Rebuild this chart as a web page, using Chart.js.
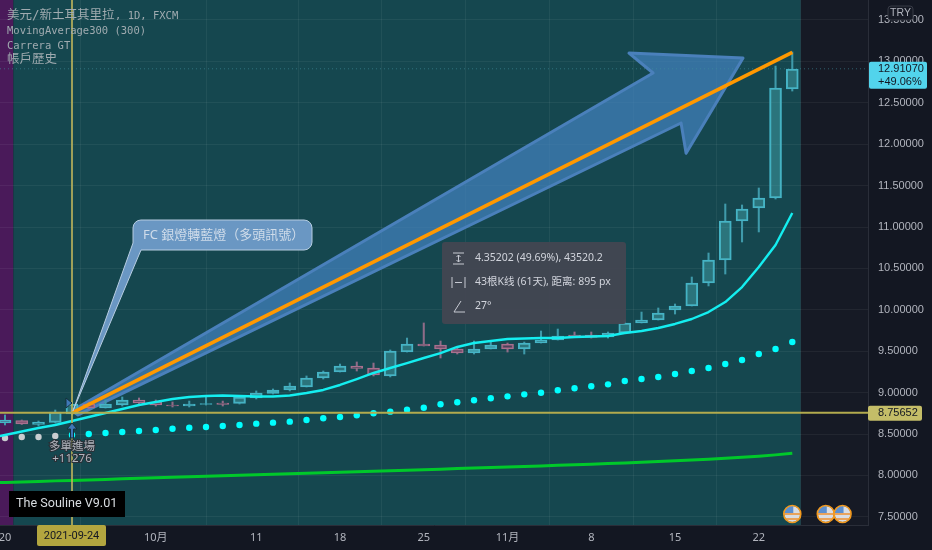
<!DOCTYPE html>
<html>
<head>
<meta charset="utf-8">
<title>USD/TRY</title>
<script src="https://cdn.jsdelivr.net/npm/chart.js@4/dist/chart.umd.min.js"></script>
<style>
  html, body { margin: 0; padding: 0; background: #131722; }
  canvas { display: block; }
</style>
</head>
<body>
<canvas id="chart" width="932" height="550"></canvas>
<script>
// daily bars, 2021-09-17 (just off the left edge) to 2021-11-24
const opens = [8.63, 8.633, 8.663, 8.615, 8.639, 8.742, 8.862, 8.814, 8.85, 8.911, 8.887, 8.85, 8.838, 8.856, 8.875, 8.868, 8.935, 8.989, 9.032, 9.068, 9.176, 9.249, 9.321, 9.297, 9.201, 9.49, 9.587, 9.575, 9.527, 9.478, 9.527, 9.587, 9.527, 9.599, 9.635, 9.696, 9.696, 9.672, 9.72, 9.841, 9.877, 9.998, 10.046, 10.324, 10.601, 11.073, 11.229, 11.35, 12.667];
const closes = [8.65, 8.669, 8.621, 8.645, 8.766, 8.862, 8.814, 8.862, 8.911, 8.875, 8.85, 8.838, 8.862, 8.868, 8.856, 8.947, 8.995, 9.032, 9.08, 9.176, 9.249, 9.321, 9.291, 9.213, 9.503, 9.587, 9.563, 9.527, 9.478, 9.527, 9.575, 9.527, 9.599, 9.635, 9.684, 9.672, 9.666, 9.72, 9.841, 9.877, 9.961, 10.046, 10.324, 10.601, 11.073, 11.217, 11.35, 12.679, 12.908];
const highs = [8.66, 8.73, 8.669, 8.657, 8.79, 8.887, 8.887, 8.911, 8.947, 8.935, 8.911, 8.887, 8.898, 8.947, 8.898, 8.959, 9.02, 9.044, 9.116, 9.201, 9.261, 9.345, 9.37, 9.357, 9.515, 9.659, 9.841, 9.623, 9.539, 9.623, 9.623, 9.599, 9.611, 9.744, 9.768, 9.732, 9.732, 9.732, 9.877, 9.973, 10.022, 10.07, 10.396, 10.686, 11.278, 11.266, 11.471, 12.944, 13.114];
const lows = [8.61, 8.609, 8.615, 8.597, 8.633, 8.73, 8.802, 8.814, 8.838, 8.862, 8.838, 8.826, 8.826, 8.85, 8.838, 8.862, 8.923, 8.983, 9.02, 9.068, 9.164, 9.249, 9.261, 9.201, 9.189, 9.49, 9.563, 9.418, 9.466, 9.466, 9.527, 9.49, 9.466, 9.599, 9.635, 9.672, 9.659, 9.659, 9.72, 9.841, 9.877, 9.949, 10.046, 10.288, 10.432, 10.819, 10.94, 11.338, 12.642];

// Carrera GT centre line
const carreraLine = [8.45, 8.488, 8.53, 8.573, 8.609, 8.657, 8.705, 8.754, 8.802, 8.85, 8.887, 8.923, 8.947, 8.959, 8.965, 8.959, 8.953, 8.953, 8.965, 8.995, 9.032, 9.092, 9.164, 9.237, 9.297, 9.357, 9.418, 9.478, 9.551, 9.599, 9.623, 9.647, 9.653, 9.659, 9.659, 9.672, 9.678, 9.684, 9.72, 9.744, 9.78, 9.829, 9.889, 9.973, 10.094, 10.275, 10.517, 10.783, 11.169];
// Carrera GT dots
const carreraDots = [8.44, 8.452, 8.464, 8.464, 8.476, 8.488, 8.5, 8.512, 8.524, 8.536, 8.548, 8.564, 8.576, 8.585, 8.597, 8.609, 8.625, 8.637, 8.649, 8.669, 8.69, 8.705, 8.726, 8.75, 8.77, 8.794, 8.818, 8.859, 8.883, 8.907, 8.931, 8.955, 8.979, 8.999, 9.028, 9.052, 9.076, 9.1, 9.14, 9.164, 9.188, 9.225, 9.261, 9.297, 9.345, 9.394, 9.466, 9.527, 9.611];
const greyDotCount = 5;
// MovingAverage300
const movingAverage300 = [7.91, 7.915, 7.921, 7.927, 7.934, 7.94, 7.946, 7.952, 7.959, 7.965, 7.971, 7.977, 7.983, 7.99, 7.996, 8.002, 8.008, 8.014, 8.02, 8.027, 8.033, 8.039, 8.045, 8.051, 8.057, 8.063, 8.069, 8.075, 8.082, 8.088, 8.095, 8.101, 8.108, 8.115, 8.122, 8.129, 8.136, 8.143, 8.151, 8.159, 8.168, 8.177, 8.186, 8.196, 8.207, 8.219, 8.232, 8.248, 8.268];

// measuring line
const trendX = [5, 48];
const trendY = [8.75652, 13.10854];

// big blue arrow
const arrowX = [5, 39.69, 38.25, 45.06, 41.66, 41.36, 5.36];
const arrowY = [8.78, 12.86, 13.1, 13.04, 11.89, 12.256, 8.73];

const entryIndex = 5;
const entryPrice = 8.75652;
const lastPrice = 12.9107;
const eventIndexes = [48, 50, 51];

const xTickValues = [1, 10, 16, 21, 26, 31, 36, 41, 46];
const xTickLabels = ["20", "10月", "11", "18", "25", "11月", "8", "15", "22"];
const yTickValues = [7.5, 8, 8.5, 9, 9.5, 10, 10.5, 11, 11.5, 12, 12.5, 13, 13.5];

const xMin = 0.7015, xMax = 52.52;
const yMin = 7.4011, yMax = 13.7415;
const purpleEnd = 1.5, tealEnd = 48.5;

const isUp = opens.map((o, i) => closes[i] >= o);
const upEdge = "#45b4c6", downEdge = "#a8708e";
const bodyFill = isUp.map((u) => (u ? "rgba(70,170,180,0.45)" : "rgba(110,70,100,0.55)"));
const bodyEdge = isUp.map((u) => (u ? upEdge : downEdge));
const wickCol = isUp.map((u) => (u ? "#3f9aaa" : "#8f6c88"));

const monoFont = '"DejaVu Sans Mono", "Noto Sans CJK TC", monospace';
const cjkFont = '"Noto Sans", "Noto Sans CJK TC", sans-serif';
const axisFont = '"Liberation Sans", sans-serif';

function roundRect(ctx, x, y, w, h, r) {
  ctx.beginPath();
  ctx.roundRect(x, y, w, h, r);
}

function drawFlag(ctx, x, y) {
  const r = 8;
  ctx.save();
  ctx.beginPath();
  ctx.arc(x, y, r, 0, Math.PI * 2);
  ctx.fillStyle = "#d9dde3";
  ctx.fill();
  ctx.clip();
  ctx.fillStyle = "#e9a35c";
  ctx.fillRect(x - r, y - 1, r * 2, 2);
  ctx.fillRect(x - r, y + 4, r * 2, 2);
  ctx.fillStyle = "#5b8fd0";
  ctx.fillRect(x - r, y - r, r + 1, r - 1);
  ctx.restore();
  ctx.beginPath();
  ctx.arc(x, y, r + 0.5, 0, Math.PI * 2);
  ctx.strokeStyle = "#f39a1e";
  ctx.lineWidth = 1.6;
  ctx.stroke();
}

const overlayPlugin = {
  id: "overlay",
  beforeDraw(chart) {
    const { ctx, chartArea: a, scales } = chart;
    const px = scales.x.getPixelForValue(purpleEnd);
    const tx = scales.x.getPixelForValue(tealEnd);
    ctx.save();
    ctx.fillStyle = "#131722";
    ctx.fillRect(0, 0, chart.width, chart.height);
    ctx.fillStyle = "#161a25";
    ctx.fillRect(a.left, a.top, a.right - a.left, a.bottom - a.top);
    ctx.fillStyle = "#4a1a5a";
    ctx.fillRect(a.left, a.top, px - a.left, a.bottom - a.top);
    ctx.fillStyle = "#15474f";
    ctx.fillRect(px, a.top, tx - px, a.bottom - a.top);
    ctx.restore();
  },
  beforeDatasetsDraw(chart) {
    const { ctx, scales } = chart;
    ctx.save();
    // arrow under everything else
    ctx.beginPath();
    arrowX.forEach((v, i) => {
      const x = scales.x.getPixelForValue(v);
      const y = scales.y.getPixelForValue(arrowY[i]);
      if (i === 0) ctx.moveTo(x, y);
      else ctx.lineTo(x, y);
    });
    ctx.closePath();
    ctx.fillStyle = "rgba(66,130,190,0.72)";
    ctx.fill();
    ctx.strokeStyle = "#4a80bb";
    ctx.lineWidth = 3;
    ctx.lineJoin = "round";
    ctx.stroke();
    // last price dotted line
    const ly = scales.y.getPixelForValue(lastPrice);
    ctx.beginPath();
    ctx.setLineDash([1, 3]);
    ctx.moveTo(chart.chartArea.left, ly);
    ctx.lineTo(chart.chartArea.right, ly);
    ctx.strokeStyle = "rgba(63,143,156,0.6)";
    ctx.lineWidth = 1;
    ctx.stroke();
    ctx.setLineDash([]);
    ctx.restore();
  },
  afterDraw(chart) {
    const { ctx, chartArea: a, scales } = chart;
    const ex = scales.x.getPixelForValue(entryIndex);
    const ey = scales.y.getPixelForValue(entryPrice);
    const ly = scales.y.getPixelForValue(lastPrice);
    ctx.save();

    // entry crosshair
    ctx.strokeStyle = "rgba(182,176,90,0.85)";
    ctx.lineWidth = 2;
    ctx.beginPath();
    ctx.moveTo(ex, a.top);
    ctx.lineTo(ex, a.bottom);
    ctx.stroke();
    ctx.strokeStyle = "#b3ab4e";
    ctx.beginPath();
    ctx.moveTo(a.left, ey);
    ctx.lineTo(a.right, ey);
    ctx.stroke();

    // callout
    ctx.beginPath();
    ctx.moveTo(141, 250);
    ctx.lineTo(ex + 1, ey - 2);
    ctx.lineTo(133, 243);
    ctx.lineTo(133, 228);
    ctx.arcTo(133, 220, 141, 220, 8);
    ctx.lineTo(304, 220);
    ctx.arcTo(312, 220, 312, 228, 8);
    ctx.lineTo(312, 242);
    ctx.arcTo(312, 250, 304, 250, 8);
    ctx.closePath();
    ctx.fillStyle = "#6a97c3";
    ctx.fill();
    ctx.strokeStyle = "#b7cde2";
    ctx.lineWidth = 1;
    ctx.stroke();
    ctx.fillStyle = "#cfdcea";
    ctx.font = "13px " + cjkFont;
    ctx.textAlign = "left";
    ctx.textBaseline = "middle";
    ctx.fillText("FC 銀燈轉藍燈（多頭訊號）", 143, 235);

    // measure panel
    roundRect(ctx, 442, 242, 184, 82, 3);
    ctx.fillStyle = "rgba(66,70,82,0.97)";
    ctx.fill();
    ctx.fillStyle = "#d1d4dc";
    ctx.font = '10.5px "Noto Sans", "Noto Sans CJK SC", sans-serif';
    ctx.fillText("4.35202 (49.69%), 43520.2", 475, 258);
    ctx.fillText("43根K线 (61天), 距离: 895 px", 475, 282);
    ctx.fillText("27°", 475, 306);
    ctx.strokeStyle = "#c6c9d2";
    ctx.lineWidth = 1;
    ctx.beginPath();
    // range icon
    ctx.moveTo(453, 253); ctx.lineTo(464, 253);
    ctx.moveTo(453, 264); ctx.lineTo(464, 264);
    ctx.moveTo(458.5, 255); ctx.lineTo(458.5, 262);
    ctx.moveTo(456.5, 257); ctx.lineTo(458.5, 255); ctx.lineTo(460.5, 257);
    ctx.moveTo(456.5, 260); ctx.lineTo(458.5, 262); ctx.lineTo(460.5, 260);
    // bars icon
    ctx.moveTo(452, 277); ctx.lineTo(452, 288);
    ctx.moveTo(465, 277); ctx.lineTo(465, 288);
    ctx.moveTo(455, 282.5); ctx.lineTo(462, 282.5);
    // angle icon
    ctx.moveTo(454, 312); ctx.lineTo(465, 312);
    ctx.moveTo(454, 312); ctx.lineTo(461, 301);
    ctx.stroke();

    // entry markers
    ctx.fillStyle = "#3f78b8";
    ctx.strokeStyle = "#14303a";
    ctx.lineWidth = 1;
    ctx.beginPath();
    ctx.moveTo(ex - 6, 398); ctx.lineTo(ex, 403); ctx.lineTo(ex - 6, 408);
    ctx.closePath();
    ctx.fill();
    ctx.stroke();
    ctx.beginPath();
    ctx.moveTo(ex, 423); ctx.lineTo(ex + 5, 429); ctx.lineTo(ex + 1.5, 429); ctx.lineTo(ex + 1.5, 438);
    ctx.lineTo(ex - 1.5, 438); ctx.lineTo(ex - 1.5, 429); ctx.lineTo(ex - 5, 429);
    ctx.closePath();
    ctx.fill();
    ctx.stroke();

    ctx.font = "11.5px " + cjkFont;
    ctx.textAlign = "center";
    ctx.lineWidth = 2;
    ctx.strokeStyle = "#2a3138";
    ctx.fillStyle = "#b2b5be";
    ctx.strokeText("多單進場", ex, 447);
    ctx.fillText("多單進場", ex, 447);
    ctx.strokeText("+11276", ex, 459);
    ctx.fillText("+11276", ex, 459);

    // legend text
    ctx.textAlign = "left";
    ctx.fillStyle = "#a0abb0";
    ctx.font = "12.5px " + monoFont;
    ctx.fillText("美元/新土耳其里拉", 7, 16);
    ctx.fillText("帳戶歷史", 7, 60);
    ctx.font = "10.5px " + monoFont;
    ctx.fillText(", 1D, FXCM", 115, 16);
    ctx.fillText("MovingAverage300 (300)", 7, 31);
    ctx.fillText("Carrera GT", 7, 46);

    // signature
    ctx.fillStyle = "#000000";
    ctx.fillRect(9, 491, 116, 26);
    ctx.fillStyle = "#d8dce0";
    ctx.font = "12.6px Roboto, sans-serif";
    ctx.fillText("The Souline V9.01", 16, 504);

    eventIndexes.forEach((i) => drawFlag(ctx, scales.x.getPixelForValue(i), 514));

    // date tag
    roundRect(ctx, 37, 525, 69, 21, 2);
    ctx.fillStyle = "#b3a63f";
    ctx.fill();
    ctx.fillStyle = "#131722";
    ctx.font = "11px Roboto, sans-serif";
    ctx.textAlign = "center";
    ctx.fillText("2021-09-24", 71.5, 536);

    // price tags
    roundRect(ctx, 868, ey - 7, 54, 15, 2);
    ctx.fillStyle = "#c4bd68";
    ctx.fill();
    ctx.fillStyle = "#131722";
    ctx.font = "11px " + axisFont;
    ctx.textAlign = "left";
    ctx.fillText("8.75652", 878, ey + 0.5);

    roundRect(ctx, 869, ly - 7, 58, 27, 2);
    ctx.fillStyle = "#52d4ec";
    ctx.fill();
    ctx.fillStyle = "#131722";
    ctx.fillText("12.91070", 878, ly + 0.5);
    ctx.fillText("+49.06%", 878, ly + 13.5);

    // currency badge
    roundRect(ctx, 888, 6, 25, 14, 3);
    ctx.fillStyle = "#161a25";
    ctx.fill();
    ctx.strokeStyle = "#363a45";
    ctx.lineWidth = 1;
    ctx.stroke();
    ctx.fillStyle = "#b2b5be";
    ctx.font = "10.5px " + axisFont;
    ctx.textAlign = "center";
    ctx.fillText("TRY", 900.5, 13.5);
    ctx.restore();
  },
};

function pts(values) {
  return values.map((v, i) => ({ x: i, y: v }));
}

const lineBase = { type: "line", pointRadius: 0, borderJoinStyle: "round", tension: 0 };
const barBase = { grouped: false, borderSkipped: false, borderRadius: 0 };

new Chart(document.getElementById("chart"), {
  type: "bar",
  plugins: [overlayPlugin],
  data: {
    datasets: [
      {
        ...lineBase,
        label: "Trend",
        data: trendX.map((x, i) => ({ x: x, y: trendY[i] })),
        borderColor: "#ff9800",
        borderWidth: 3.6,
        order: 1,
      },
      {
        ...lineBase,
        label: "Carrera GT",
        data: pts(carreraLine),
        borderColor: "#14eef0",
        borderWidth: 2.4,
        order: 2,
      },
      {
        type: "line",
        label: "Carrera dots",
        data: pts(carreraDots),
        showLine: false,
        pointRadius: 3.2,
        pointBorderWidth: 0,
        pointBackgroundColor: carreraDots.map((v, i) => (i < greyDotCount ? "#c9cdd0" : "#00ffff")),
        order: 3,
      },
      {
        ...lineBase,
        label: "MovingAverage300",
        data: pts(movingAverage300),
        borderColor: "#00c82a",
        borderWidth: 3,
        order: 4,
      },
      {
        ...barBase,
        label: "Body",
        data: opens.map((o, i) => ({ x: i, y: [o, closes[i]] })),
        backgroundColor: bodyFill,
        borderColor: bodyEdge,
        borderWidth: 1.4,
        barThickness: 12,
        order: 5,
      },
      {
        ...barBase,
        label: "Upper wick",
        data: highs.map((h, i) => ({ x: i, y: [Math.max(opens[i], closes[i]), h] })),
        backgroundColor: wickCol,
        borderWidth: 0,
        barThickness: 1.4,
        order: 6,
      },
      {
        ...barBase,
        label: "Lower wick",
        data: lows.map((l, i) => ({ x: i, y: [l, Math.min(opens[i], closes[i])] })),
        backgroundColor: wickCol,
        borderWidth: 0,
        barThickness: 1.4,
        order: 7,
      },
    ],
  },
  options: {
    responsive: false,
    animation: false,
    layout: { padding: 0, autoPadding: false },
    plugins: { legend: { display: false }, tooltip: { enabled: false } },
    scales: {
      x: {
        type: "linear",
        min: xMin,
        max: xMax,
        offset: false,
        afterBuildTicks(scale) {
          scale.ticks = xTickValues.map((v) => ({ value: v }));
        },
        afterFit(scale) {
          scale.height = 25;
          scale.paddingLeft = 0;
          scale.paddingRight = 0;
        },
        grid: { color: "rgba(255,255,255,0.055)", drawTicks: false, lineWidth: 1 },
        border: { color: "#2a2e39", width: 1 },
        ticks: {
          autoSkip: false,
          maxRotation: 0,
          padding: 6,
          color: "#b2b5be",
          font: { family: '"Noto Sans", "Noto Sans CJK TC", sans-serif', size: 11 },
          callback: (value, index) => xTickLabels[index],
        },
      },
      y: {
        type: "linear",
        position: "right",
        min: yMin,
        max: yMax,
        afterBuildTicks(scale) {
          scale.ticks = yTickValues.map((v) => ({ value: v }));
        },
        afterFit(scale) {
          scale.width = 64;
          scale.paddingTop = 0;
          scale.paddingBottom = 0;
        },
        grid: { color: "rgba(255,255,255,0.055)", drawTicks: false, lineWidth: 1 },
        border: { color: "#2a2e39", width: 1 },
        ticks: {
          padding: 10,
          color: "#b2b5be",
          font: { family: '"Liberation Sans", sans-serif', size: 11 },
          callback: (value) => value.toFixed(5),
        },
      },
    },
  },
});
</script>
</body>
</html>
